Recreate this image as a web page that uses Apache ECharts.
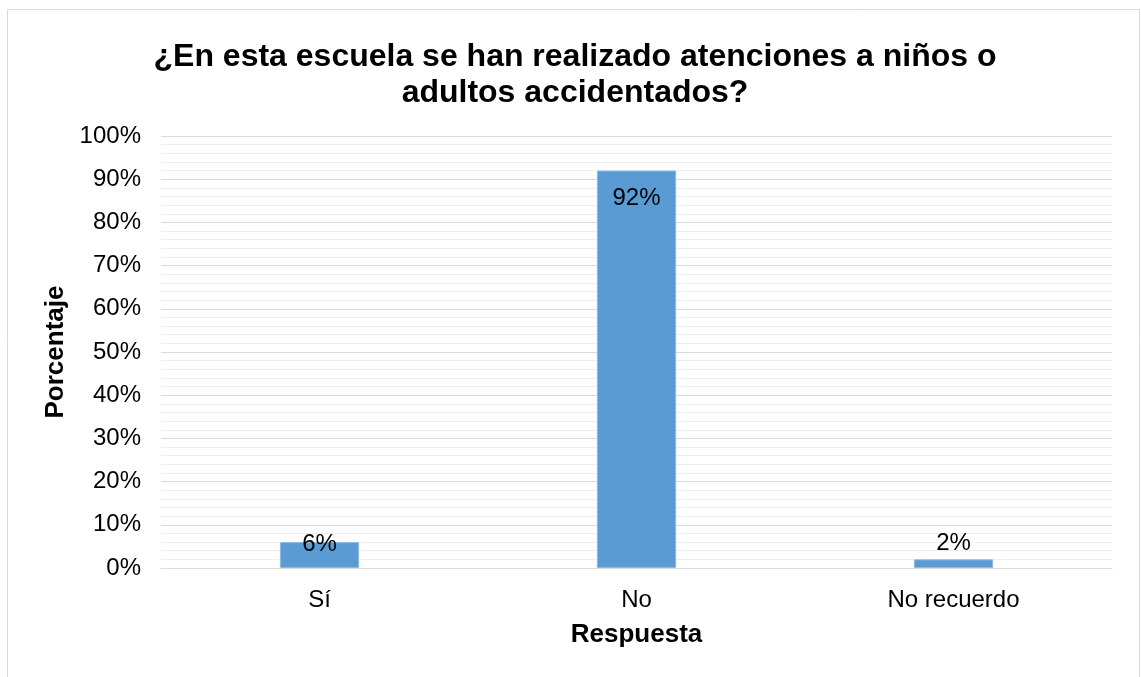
<!DOCTYPE html>
<html>
<head>
<meta charset="utf-8">
<script src="https://cdn.jsdelivr.net/npm/echarts@6/dist/echarts.min.js"></script>
<style>
html,body{margin:0;padding:0;background:#fff;}
#c{width:1141px;height:677px;}
</style>
</head>
<body>
<div id="c"></div>
<script>
const titleText = '¿En esta escuela se han realizado atenciones a niños o\nadultos accidentados?';
const categories = ['Sí', 'No', 'No recuerdo'];
const values = [6, 92, 2];
const yAxisName = 'Porcentaje';
const xAxisName = 'Respuesta';

// label vertical offsets (px, relative to bar top) — styling only
const labelOffsets = [2, 28, -16];

const chart = echarts.init(document.getElementById('c'), null, {renderer: 'canvas'});
const font = 'Liberation Sans, Arial, sans-serif';

chart.setOption({
  animation: false,
  backgroundColor: '#fff',
  graphic: [{
    type: 'rect',
    shape: {x: 7.5, y: 9.5, width: 1132, height: 680},
    style: {fill: 'none', stroke: '#d9d9d9', lineWidth: 1},
    silent: true
  }],
  title: {
    text: titleText,
    left: 570,
    textAlign: 'center',
    top: 34,
    textStyle: {fontFamily: font, fontSize: 32, fontWeight: 'bold', color: '#000', lineHeight: 36}
  },
  grid: {left: 161, right: 29, top: 136, bottom: 109, containLabel: false},
  xAxis: {
    type: 'category',
    data: categories,
    name: xAxisName,
    nameLocation: 'middle',
    nameGap: 54,
    nameTextStyle: {fontFamily: font, fontSize: 26, fontWeight: 'bold', color: '#000'},
    axisLine: {lineStyle: {color: '#d9d9d9', width: 1}},
    axisTick: {show: false},
    axisLabel: {fontFamily: font, fontSize: 24, color: '#000', margin: 20}
  },
  yAxis: {
    type: 'value',
    min: 0, max: 100, interval: 10,
    name: yAxisName,
    nameLocation: 'middle',
    nameGap: 88,
    nameTextStyle: {fontFamily: font, fontSize: 26, fontWeight: 'bold', color: '#000'},
    axisLine: {show: false},
    axisTick: {show: false},
    axisLabel: {fontFamily: font, fontSize: 24, color: '#000', margin: 20, formatter: '{value}%'},
    splitLine: {lineStyle: {color: '#d9d9d9', width: 1}},
    minorTick: {show: false, splitNumber: 5},
    minorSplitLine: {show: true, lineStyle: {color: '#efefef', width: 1}}
  },
  series: [{
    type: 'bar',
    barWidth: '25%',
    data: values.map((v, i) => ({
      value: v,
      label: {
        show: true,
        position: ['50%', labelOffsets[i]],
        align: 'center',
        verticalAlign: 'middle',
        formatter: '{c}%',
        fontFamily: font,
        fontSize: 24,
        color: '#000'
      }
    })),
    itemStyle: {color: '#5b9bd5', borderColor: '#8db8e3', borderWidth: 1}
  }]
});
</script>
</body>
</html>
